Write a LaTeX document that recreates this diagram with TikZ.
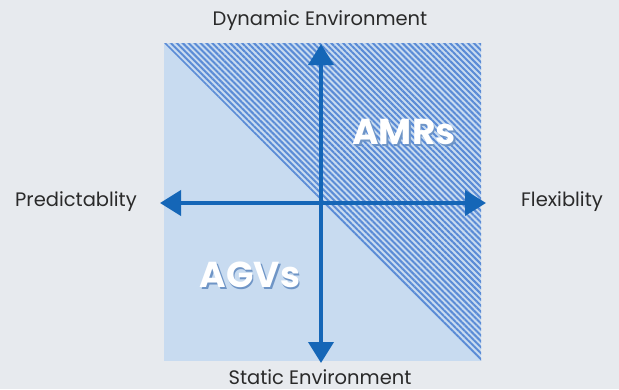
\documentclass[tikz,border=0pt]{standalone}
\usepackage{fontspec}
\setmainfont{Poppins}
\usetikzlibrary{patterns.meta,arrows.meta}
\definecolor{bgcol}{HTML}{E7EAEE}
\definecolor{fieldcol}{HTML}{C8DBF0}
\definecolor{hatchcol}{HTML}{5A8BD6}
\definecolor{axiscol}{HTML}{1566B7}
\definecolor{labelcol}{HTML}{2A2A2A}
\definecolor{shadowcol}{HTML}{6F95C6}
% white label with a soft drop shadow, set as one box
\newcommand{\shadowed}[1]{\makebox[0pt][l]{\kern1.6pt\raisebox{-1.6pt}{\textcolor{shadowcol}{#1}}}#1}
\tikzset{
  axis/.style={draw=axiscol, line width=4pt,
    -{Triangle[length=21pt,width=25pt]}},
  axislabel/.style={text=labelcol, font=\fontsize{19.5}{22}\selectfont, inner sep=0pt},
  zonelabel/.style={text=white, font=\fontsize{36}{40}\selectfont\bfseries, inner sep=0pt},
}
\begin{document}
\begin{tikzpicture}[x=1pt,y=-1pt]
  % page background
  \fill[bgcol] (0,0) rectangle (619,389);
  \useasboundingbox (0,0) rectangle (619,389);
  % quadrant field
  \fill[fieldcol] (164,43) rectangle (481,361);
  % hatched half above the diagonal
  \fill[pattern={Lines[angle=-45,distance=4.2pt,line width=2pt]}, pattern color=hatchcol]
    (164,43) -- (481,43) -- (481,361) -- cycle;
  % axis centre and end points
  \coordinate (c) at (321,203);
  \coordinate (top) at (321,44);
  \coordinate (bottom) at (321,363);
  \coordinate (left) at (160,203);
  \coordinate (right) at (486,203);
  \draw[axis] (c) -- (top);
  \draw[axis] (c) -- (bottom);
  \draw[axis] (c) -- (left);
  \draw[axis] (c) -- (right);
  % axis labels
  \node[axislabel] (dyn) at (320,21) {Dynamic Environment};
  \node[axislabel] (stat) at (320,377) {Static Environment};
  \node[axislabel] (pred) at (76,202) {Predictablity};
  \node[axislabel] (flex) at (562,202) {Flexiblity};
  % zone labels
  \node[zonelabel] (amr) at (404,133) {\shadowed{AMRs}};
  \node[zonelabel] (agv) at (250,276) {\shadowed{AGVs}};
\end{tikzpicture}
\end{document}
